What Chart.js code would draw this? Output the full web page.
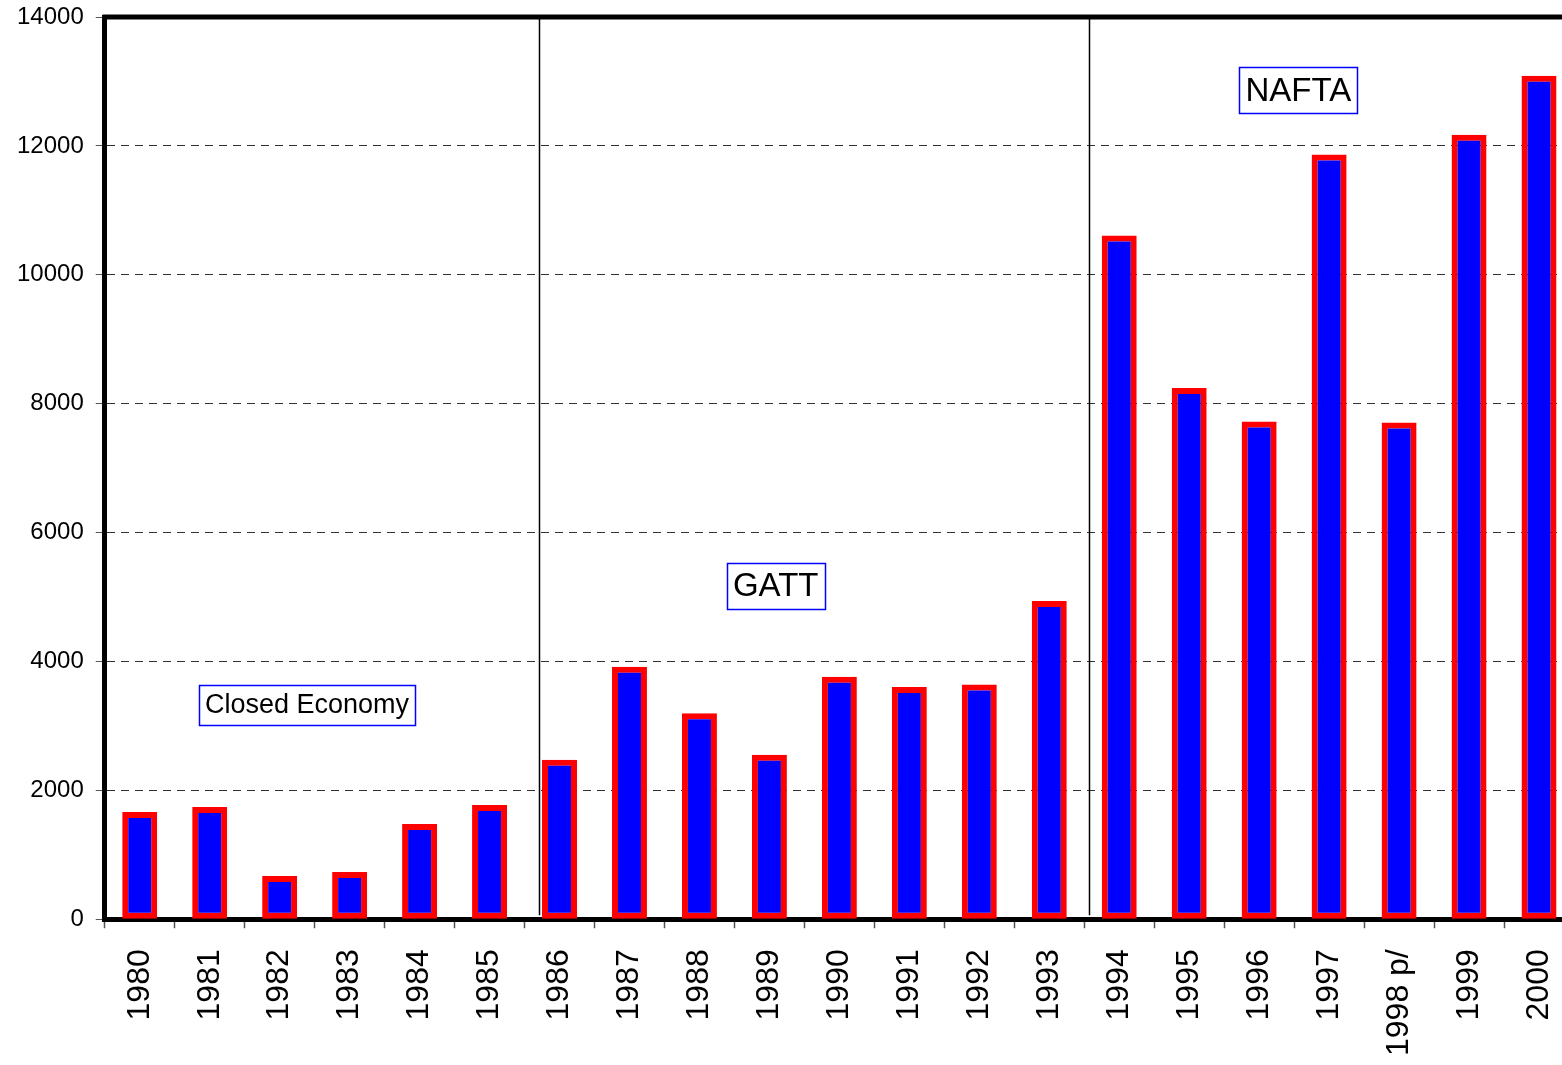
<!DOCTYPE html>
<html>
<head>
<meta charset="utf-8">
<script src="https://cdn.jsdelivr.net/npm/chart.js@4/dist/chart.umd.min.js"></script>
<style>
  html, body { margin: 0; padding: 0; background: #fff; }
  canvas { display: block; }
</style>
</head>
<body>
<canvas id="barChart" width="1562" height="1065"></canvas>
<script>
const years = ["1980", "1981", "1982", "1983", "1984", "1985", "1986", "1987", "1988", "1989", "1990",
  "1991", "1992", "1993", "1994", "1995", "1996", "1997", "1998 p/", "1999", "2000"];
const values = [1664, 1742, 669, 731, 1477, 1773, 2473, 3919, 3198, 2551, 3764,
  3602, 3644, 4939, 10611, 8243, 7723, 11866, 7708, 12171, 13089];

// period separators, in category units
const separators = [5.7, 13.57];

// period labels: text, category position, value position
const periodNames = ["Closed Economy", "GATT", "NAFTA"];
const periodX = [2.39, 9.09, 16.56];
const periodY = [3330, 5165, 12860];
const periodFont = [27, 33, 33];

// the plot runs past the right edge of the picture
const topMargin = 17;
const overhang = 12;

function xAt(scale, v) {
  const i = Math.floor(v);
  const a = scale.getPixelForValue(i);
  const b = scale.getPixelForValue(i + 1);
  return a + (v - i) * (b - a);
}

const framePlugin = {
  id: "frame",
  afterLayout(chart) {
    const area = chart.chartArea;
    const x = chart.scales.x;
    const y = chart.scales.y;
    const grow = chart.width + overhang - area.right;
    area.right += grow;
    area.width += grow;
    x.right += grow;
    x.width += grow;
    x.configure();
    const lift = area.top - topMargin;
    area.top -= lift;
    area.height += lift;
    y.top -= lift;
    y.height += lift;
    y.configure();
  },
};

const periodPlugin = {
  id: "periods",
  afterDatasetsDraw(chart) {
    const ctx = chart.ctx;
    const area = chart.chartArea;
    const x = chart.scales.x;
    const y = chart.scales.y;
    ctx.save();
    // separators
    ctx.strokeStyle = "#000";
    ctx.lineWidth = 1.5;
    separators.forEach((s) => {
      const px = Math.round(xAt(x, s)) + 0.5;
      ctx.beginPath();
      ctx.moveTo(px, area.top);
      ctx.lineTo(px, area.bottom - 4);
      ctx.stroke();
    });
    // top border
    ctx.lineWidth = 5;
    ctx.beginPath();
    ctx.moveTo(area.left - 2, area.top);
    ctx.lineTo(area.right, area.top);
    ctx.stroke();
    // labels
    periodNames.forEach((name, i) => {
      ctx.font = periodFont[i] + "px 'Liberation Sans', Arial, sans-serif";
      const w = ctx.measureText(name).width + 12;
      const h = periodFont[i] + 13;
      const cx = xAt(x, periodX[i]);
      const cy = y.getPixelForValue(periodY[i]);
      ctx.fillStyle = "#fff";
      ctx.fillRect(cx - w / 2, cy - h / 2, w, h);
      ctx.strokeStyle = "#0000ff";
      ctx.lineWidth = 1.5;
      ctx.strokeRect(Math.round(cx - w / 2) + 0.5, Math.round(cy - h / 2) + 0.5, Math.round(w), Math.round(h));
      ctx.fillStyle = "#000";
      ctx.textAlign = "center";
      ctx.textBaseline = "middle";
      ctx.fillText(name, cx, cy + 1);
    });
    ctx.restore();
  },
};

const data = {
  labels: years,
  datasets: [
    {
      label: "value",
      data: values,
      backgroundColor: "#0000ff",
      borderColor: "#ff0000",
      borderWidth: 6,
      borderSkipped: false,
      barPercentage: 0.5,
      categoryPercentage: 1.0,
    },
  ],
};

const config = {
  type: "bar",
  data: data,
  options: {
    responsive: false,
    animation: false,
    layout: { padding: { left: 5, top: 12, right: 0, bottom: -12 } },
    plugins: {
      legend: { display: false },
      tooltip: { enabled: false },
    },
    scales: {
      x: {
        offset: true,
        grid: {
          offset: true,
          drawOnChartArea: false,
          drawTicks: true,
          tickLength: 9,
          tickColor: "#555",
          tickWidth: 1.5,
        },
        border: { display: true, color: "#000", width: 5 },
        ticks: {
          autoSkip: false,
          maxRotation: 90,
          minRotation: 90,
          padding: 21,
          color: "#000",
          font: { family: "'Liberation Sans', Arial, sans-serif", size: 32 },
        },
      },
      y: {
        min: 0,
        max: 14000,
        grid: {
          color: "#333",
          lineWidth: 1,
          tickLength: 9,
          tickColor: "#555",
        },
        border: { display: true, color: "#000", width: 5, dash: [8, 6] },
        ticks: {
          stepSize: 2000,
          padding: 12,
          color: "#000",
          font: { family: "'Liberation Sans', Arial, sans-serif", size: 24, lineHeight: 1 },
          callback: (v) => String(v),
        },
      },
    },
  },
  plugins: [framePlugin, periodPlugin],
};

const barChart = new Chart(document.getElementById("barChart"), config);
</script>
</body>
</html>
